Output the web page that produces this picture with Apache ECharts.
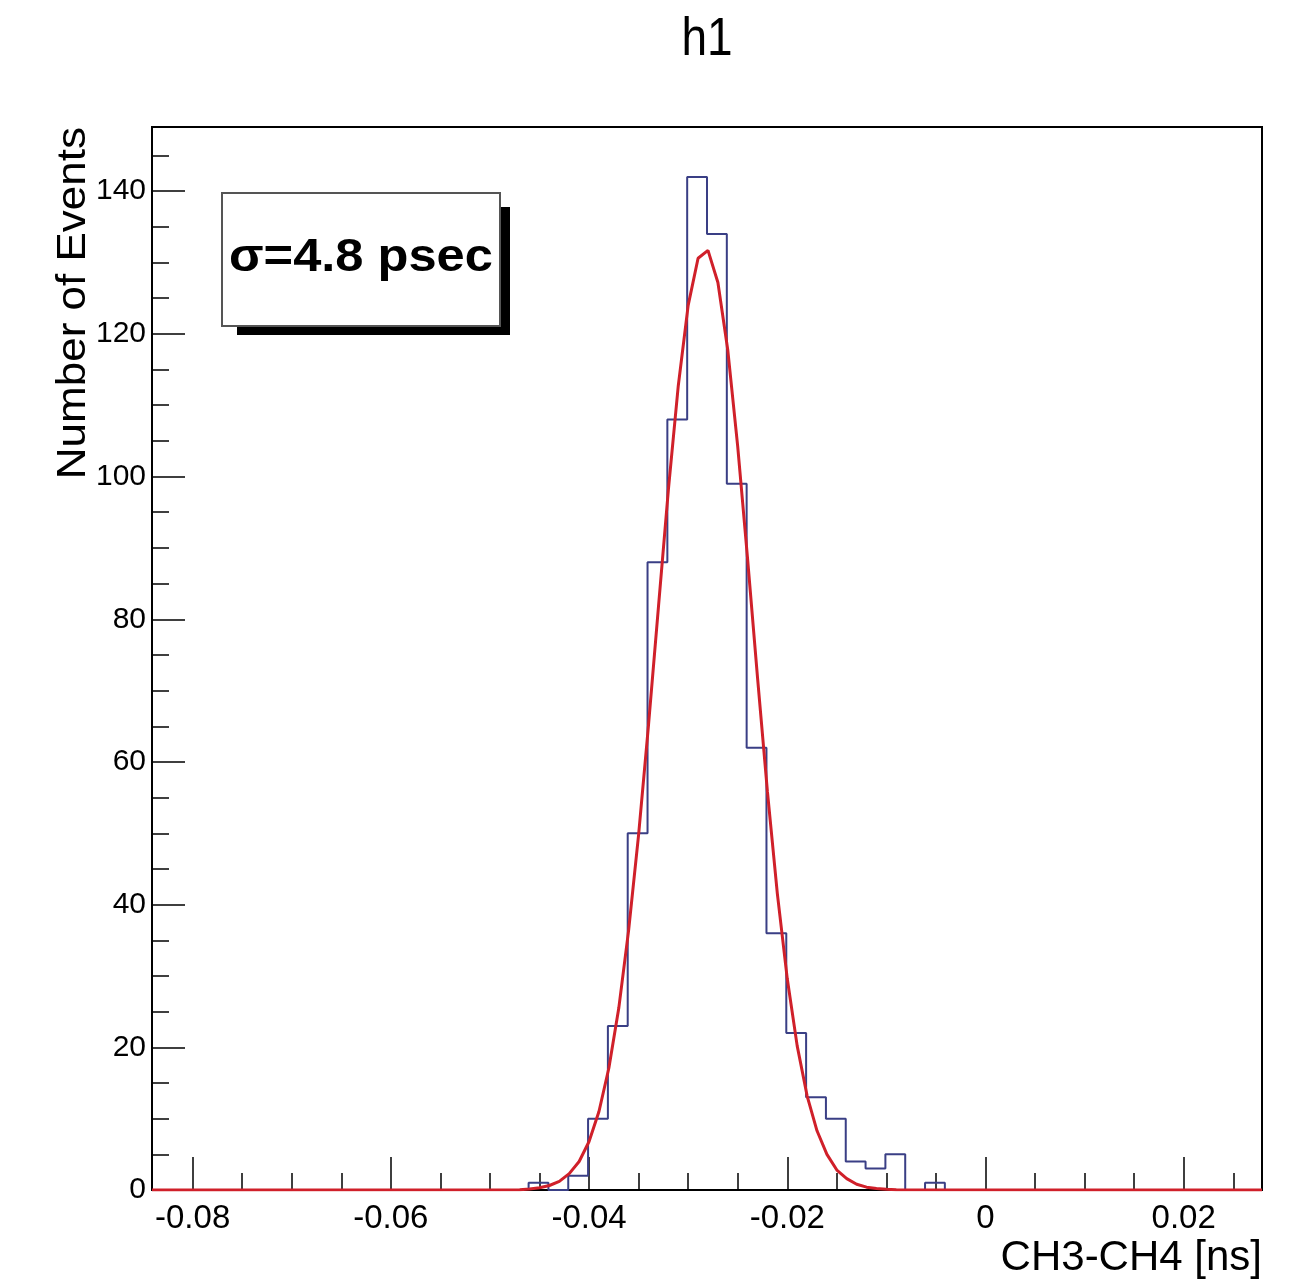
<!DOCTYPE html>
<html lang="en">
  <head>
    <meta charset="UTF-8" />
    <title>h1</title>
    <script src="https://cdn.jsdelivr.net/npm/echarts@6/dist/echarts.min.js"></script>
    <style>
      html, body { margin: 0; padding: 0; background: #fff; }
      #main { width: 1304px; height: 1284px; }
    </style>
  </head>
  <body>
    <div id="main"></div>
    <script>
      // histogram bins (lower edges + last upper edge) and counts
      var binEdges = [-0.0461, -0.0441, -0.0421, -0.0401, -0.0381, -0.0361, -0.0341, -0.0321,
        -0.0301, -0.0281, -0.0261, -0.0241, -0.0221, -0.0201, -0.0181, -0.0161, -0.0141,
        -0.0121, -0.0101, -0.0081, -0.0061, -0.0041];
      var counts = [1, 0, 2, 10, 23, 50, 88, 108, 142, 134, 99, 62, 36, 22, 13, 10, 4, 3, 5, 0, 1];

      // red fit curve
      var fitX = [-0.0841, -0.047, -0.046, -0.045, -0.044, -0.043, -0.042, -0.041, -0.040, -0.039,
        -0.038, -0.037, -0.036, -0.035, -0.034, -0.033, -0.032, -0.031, -0.030, -0.029,
        -0.028, -0.027, -0.026, -0.025, -0.024, -0.023, -0.022, -0.021, -0.020, -0.019,
        -0.018, -0.017, -0.016, -0.015, -0.014, -0.013, -0.012, -0.011, -0.010, -0.009, 0.0279];
      var fitY = [0, 0.05, 0.15, 0.31, 0.63, 1.2, 2.3, 4.0, 6.8, 11.0,
        17.1, 25.5, 36.5, 49.8, 65.2, 81.7, 98.1, 112.7, 124.0, 130.6,
        131.7, 127.2, 117.7, 104.2, 88.4, 71.8, 55.8, 41.5, 29.6, 20.2,
        13.2, 8.3, 5.0, 2.8, 1.6, 0.8, 0.4, 0.2, 0.09, 0.03, 0];

      var xMajorTicks = [-0.08, -0.06, -0.04, -0.02, 0, 0.02];
      var xMinorTicks = [-0.075, -0.07, -0.065, -0.055, -0.05, -0.045, -0.035, -0.03, -0.025,
        -0.015, -0.01, -0.005, 0.005, 0.01, 0.015, 0.025];
      var yMajorTicks = [0, 20, 40, 60, 80, 100, 120, 140];
      var yMinorTicks = [5, 10, 15, 25, 30, 35, 45, 50, 55, 65, 70, 75, 85, 90, 95,
        105, 110, 115, 125, 130, 135, 145];

      var xMin = -0.0841, xMax = 0.0279, yMin = 0, yMax = 149;

      // step outline of the histogram
      var histData = [[binEdges[0], 0]];
      for (var i = 0; i < counts.length; i++) {
        histData.push([binEdges[i], counts[i]]);
      }
      histData.push([binEdges[binEdges.length - 1], counts[counts.length - 1]]);
      histData.push([binEdges[binEdges.length - 1], 0]);

      var fitData = fitX.map(function (x, i) { return [x, fitY[i]]; });

      var font = "Liberation Sans";
      var chart = echarts.init(document.getElementById("main"), null, { renderer: "canvas" });

      function xAxisDef(ticks, len, labels) {
        return {
          type: "value", min: xMin, max: xMax, position: "bottom",
          axisLine: { show: false, onZero: false },
          splitLine: { show: false },
          axisTick: { show: true, inside: true, length: len, customValues: ticks,
            lineStyle: { color: "#000", width: 1.5 } },
          axisLabel: { show: labels, customValues: ticks, margin: 12,
            fontFamily: font, fontSize: 33, color: "#000" }
        };
      }
      function yAxisDef(ticks, len, labels) {
        return {
          type: "value", min: yMin, max: yMax, position: "left",
          axisLine: { show: false, onZero: false },
          splitLine: { show: false },
          axisTick: { show: true, inside: true, length: len, customValues: ticks,
            lineStyle: { color: "#000", width: 1.5 } },
          axisLabel: { show: labels, customValues: ticks, margin: 6,
            fontFamily: font, fontSize: 30, color: "#000" }
        };
      }

      chart.setOption({
        backgroundColor: "#fff",
        animation: false,
        grid: { left: 152, right: 42, top: 127, bottom: 94, show: true,
          borderColor: "#000", borderWidth: 2, backgroundColor: "transparent" },
        xAxis: [xAxisDef(xMajorTicks, 33, true), xAxisDef(xMinorTicks, 17, false)],
        yAxis: [yAxisDef(yMajorTicks, 33, true), yAxisDef(yMinorTicks, 17, false)],
        series: [
          {
            type: "line", step: "end", data: histData, symbol: "none",
            lineStyle: { color: "#3a3f85", width: 2 }, z: 2
          },
          {
            type: "line", data: fitData, symbol: "none", smooth: false,
            lineStyle: { color: "#d0202a", width: 3 }, z: 3
          }
        ],
        graphic: [
          { type: "text", x: 707, y: 40, scaleY: 1.15,
            style: { text: "h1", font: "46px " + font, fill: "#000",
              textAlign: "center", textVerticalAlign: "middle" } },
          { type: "text", x: 74, y: 127, rotation: Math.PI / 2, scaleX: 1.1,
            style: { text: "Number of Events", font: "40px " + font, fill: "#000",
              textAlign: "right", textVerticalAlign: "middle" } },
          { type: "text", x: 1262, y: 1258,
            style: { text: "CH3-CH4 [ns]", font: "42px " + font, fill: "#000",
              textAlign: "right", textVerticalAlign: "middle" } },
          { type: "rect", shape: { x: 237, y: 207, width: 273, height: 128 },
            style: { fill: "#000" }, z: 10 },
          { type: "rect", shape: { x: 222, y: 193, width: 278, height: 133 },
            style: { fill: "#fff", stroke: "#555", lineWidth: 2 }, z: 11 },
          { type: "text", x: 229, y: 258, scaleX: 1.1, z: 12,
            style: { text: "\u03c3=4.8 psec", font: "bold 46px " + font, fill: "#000",
              textAlign: "left", textVerticalAlign: "middle" } }
        ]
      });
    </script>
  </body>
</html>
